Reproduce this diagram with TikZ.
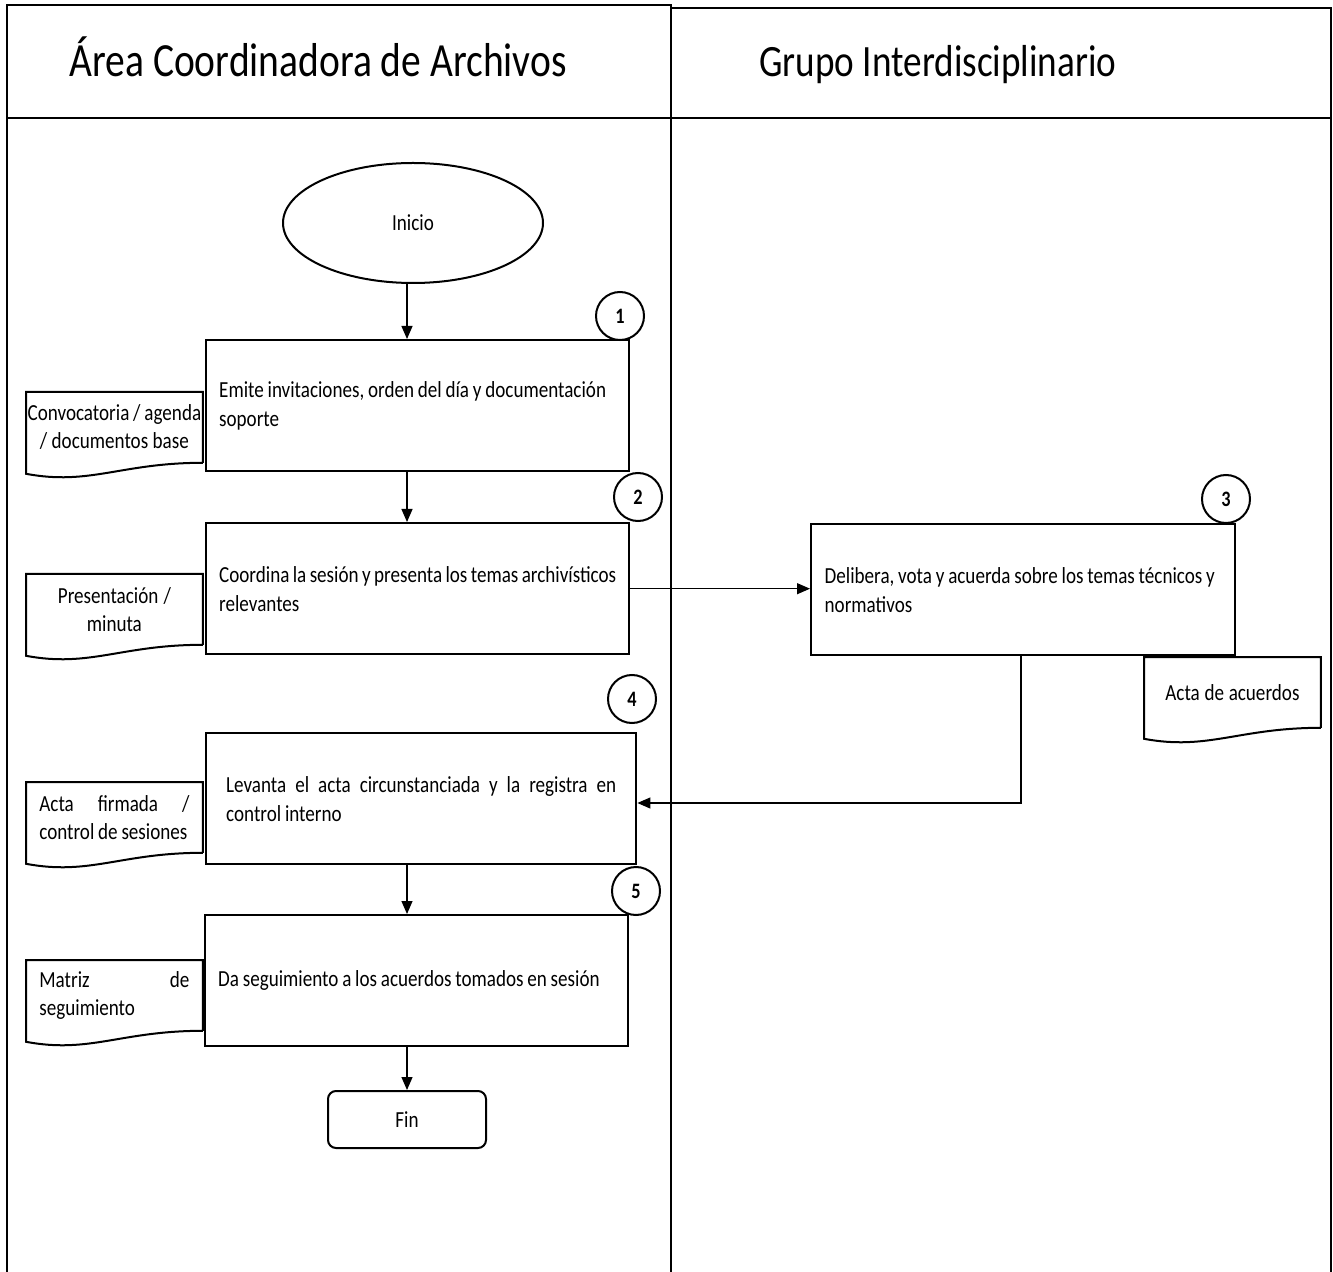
\documentclass[tikz,border=0pt]{standalone}
\usepackage{fontspec}
\setmainfont{Carlito}
\newfontfamily\narrowfont{Carlito}[FakeStretch=0.83]
\newfontfamily\headfont{Carlito}[FakeStretch=0.83]
\usetikzlibrary{shapes.geometric,arrows.meta}
\hyphenpenalty=10000
\exhyphenpenalty=10000
\newcommand{\bodytext}{\narrowfont\fontsize{11.5}{14.5}\selectfont}
\newcommand{\doctext}{\narrowfont\fontsize{11.5}{14}\selectfont}
\newcommand{\tightspace}{\spaceskip=1.9pt plus 1pt minus 0.5pt\relax}
\newcommand{\drawdoc}[1]{\draw[line width=1pt] (#1.south east)--(#1.north east)--(#1.north west)--([yshift=-5.5pt]#1.south west) .. controls +(32pt,-6pt) and +(-41pt,0pt) .. (#1.south east);}
\tikzset{
  proc/.style={draw, line width=1.2pt, anchor=north west, minimum width=211.5pt,
    minimum height=65.5pt, text width=198.5pt, align=left, font=\bodytext,
    execute at begin node=\tightspace},
  docu/.style={anchor=north west, minimum width=88pt, minimum height=35pt, inner sep=0pt,
    text width=88pt, align=center, font=\doctext, execute at begin node=\tightspace},
  num/.style={draw, circle, line width=1pt, minimum size=24pt, inner sep=0pt,
    font=\narrowfont\bfseries\fontsize{11}{12}\selectfont},
  flow/.style={line width=0.6pt, -{Triangle[length=6.5pt,width=5.5pt]}},
  lanehead/.style={anchor=base}
}
\begin{document}
\begin{tikzpicture}[x=0.5pt,y=-0.5pt]
\useasboundingbox (0,0) rectangle (1333,1272);
% carriles
\draw[line width=1.2pt] (7,5) rectangle (671,118);
\draw[line width=1pt] (671,8) -- (1331,8) -- (1331,1272);
\draw[line width=1pt] (671,118) -- (1331,118);
\draw[line width=1.2pt] (7,118) -- (7,1272);
\draw[line width=1pt] (671,118) -- (671,1272);
\node[lanehead, font=\headfont\fontsize{23.8}{28}\selectfont] (hdrArea) at (318,77) {Área Coordinadora de Archivos};
\node[lanehead, font=\headfont\fontsize{22.4}{27}\selectfont] (hdrGrupo) at (938,77) {Grupo Interdisciplinario};
% nodos
\node[draw, ellipse, line width=1pt, minimum width=130pt, minimum height=60pt, font=\bodytext] (inicio) at (413,223) {Inicio};
\node[proc] (emite) at (205,339) {Emite invitaciones, orden del día y documentación\\soporte};
\node[proc] (coordina) at (205,522) {Coordina la sesión y presenta los temas archivísticos\\relevantes};
\node[proc, minimum width=212pt] (delib) at (810,523) {Delibera, vota y acuerda sobre los temas técnicos y\\normativos};
\node[proc, minimum width=215pt, text width=195pt, align=justify] (levanta) at (205,732) {Levanta el acta circunstanciada y la registra en\linebreak control interno};
\node[proc] (seguim) at (204,914) {Da seguimiento a los acuerdos tomados en sesión};
\node[draw, rounded corners=4pt, line width=1pt, minimum width=79pt, minimum height=28.5pt, font=\bodytext] (fin) at (407,1119.5) {Fin};
% documentos
\node[docu] (conv) at (26,392) {Convocatoria / agenda\\/ documentos base};
\node[docu] (pres) at (26,574) {Presentación /\\minuta};
\node[docu] (acta) at (1144,657) {Acta de acuerdos};
\node[docu, text width=75pt, align=justify] (firm) at (26,782) {Acta firmada /\linebreak control de sesiones};
\node[docu, text width=75pt, align=justify] (matr) at (26,960) {Matriz de\linebreak seguimiento};
\drawdoc{conv}\drawdoc{pres}\drawdoc{acta}\drawdoc{firm}\drawdoc{matr}
% pasos
\node[num] (n1) at (620,316) {1};
\node[num] (n2) at (638,497) {2};
\node[num] (n3) at (1226,499) {3};
\node[num] (n4) at (632,699) {4};
\node[num] (n5) at (636,891) {5};
% flechas
\coordinate (axis) at (407,0);
\coordinate (turn) at (1021,803);
\draw[flow] (inicio.south -| axis) -- (emite.north -| axis);
\draw[flow] (emite.south -| axis) -- (coordina.north -| axis);
\draw[flow] (coordina.east) -- (coordina.east -| delib.west);
\draw[flow] (delib.south -| turn) -- (turn) -- (turn -| levanta.east);
\draw[flow] (levanta.south -| axis) -- (seguim.north -| axis);
\draw[flow] (seguim.south -| axis) -- (fin.north -| axis);
\end{tikzpicture}
\end{document}
